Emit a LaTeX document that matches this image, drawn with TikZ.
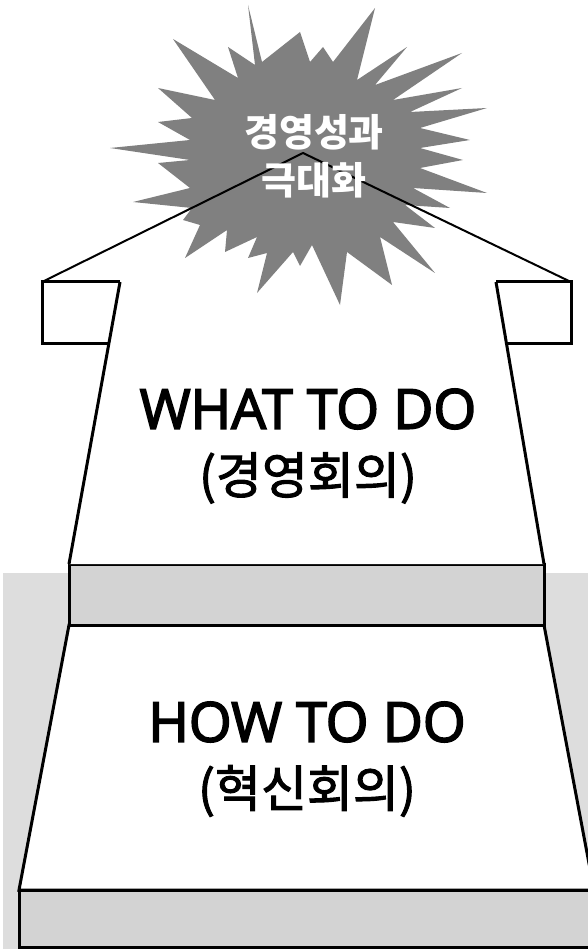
\documentclass[tikz,border=0pt]{standalone}
\usepackage{fontspec}
\setmainfont{Noto Sans CJK KR}
\newfontfamily\latfont[FakeBold=3]{Open Sans}
\newfontfamily\krfont[FakeBold=2]{Noto Sans CJK KR}
\definecolor{bgc}{HTML}{DDDDDD}
\definecolor{bandc}{HTML}{D3D3D3}
\definecolor{starc}{HTML}{808080}
\tikzset{
  outl/.style={draw=black, line width=3pt, line join=miter},
  roof/.style={draw=black, line width=2pt},
  bigtxt/.style={font=\latfont\fontsize{55}{60}\selectfont, inner sep=0pt, anchor=center},
  hantxt/.style={font=\krfont\fontsize{50}{54}\selectfont, inner sep=0pt, anchor=center},
  startxt/.style={font=\fontsize{38}{48}\selectfont\bfseries, text=white, align=center, inner sep=0pt}
}
\begin{document}
\begin{tikzpicture}[x=1pt,y=-1pt]
\useasboundingbox (0,0) rectangle (588,949);
\clip (0,0) rectangle (588,949);
% coordinates
\coordinate (apex) at (303,153);
\coordinate (lbt) at (42,282);
\coordinate (lbb) at (42,343);
\coordinate (ltt) at (120,282);
\coordinate (ltb) at (109,343);
\coordinate (rbt) at (571,282);
\coordinate (rbb) at (571,343);
\coordinate (rtt) at (496,282);
\coordinate (rtb) at (508,343);
\coordinate (ubl) at (69,564);
\coordinate (ubr) at (544,564);
\coordinate (lbl) at (69,625);
\coordinate (lbr) at (544,625);
\coordinate (bbl) at (19,890);
\coordinate (bbr) at (594,890);
% background
\fill[bgc] (3,573) rectangle (588,949);
% lower trapezoid and bands
\draw[outl, fill=white] (lbl) -- (lbr) -- (bbr) -- (bbl) -- cycle;
\draw[outl, fill=bandc] (bbl) rectangle (594,947);
\draw[outl, fill=bandc] (ubl) rectangle (lbr);
% arrow body fill
\fill[white] (lbt) -- (apex) -- (rbt) -- (rbb) -- (rtb) -- (ubr) -- (ubl) -- (ltb) -- (lbb) -- cycle;
% star
\fill[starc] (248,5) -- (262,62) -- (300,32) -- (310,62) -- (323,47) -- (333,62) -- (375,8) -- (357,80)
 -- (407,47) -- (375,85) -- (462,53) -- (393,100) -- (462,88) -- (410,112) -- (487,108) -- (420,128)
 -- (470,140) -- (420,148) -- (463,160) -- (420,168) -- (487,193) -- (413,188) -- (450,208) -- (405,205)
 -- (435,228) -- (393,222) -- (435,273) -- (380,237) -- (392,285) -- (347,252) -- (340,305) -- (312,245)
 -- (300,266) -- (293,252) -- (257,293) -- (267,253) -- (248,258) -- (257,237) -- (225,252) -- (227,230)
 -- (185,258) -- (200,225) -- (183,220) -- (192,208) -- (133,202) -- (190,188) -- (158,163) -- (190,160)
 -- (110,148) -- (190,140) -- (158,122) -- (192,118) -- (158,88) -- (215,100) -- (173,39) -- (238,78)
 -- (228,47) -- (255,65) -- cycle;
% roof
\draw[roof] (lbt) -- (apex) -- (rbt);
% side boxes and body
\draw[outl] (ltt) -- (lbt) -- (lbb) -- (ltb);
\draw[outl] (ltt) -- (ubl);
\draw[outl] (rtt) -- (rbt) -- (rbb) -- (rtb);
\draw[outl] (rtt) -- (ubr);
% texts
\node[startxt] (goal) at (314,156) {경영성과\\극대화};
\node[bigtxt] (what) at (308,409) {WHAT TO DO};
\node[hantxt] (whatk) at (308,478) {(경영회의)};
\node[bigtxt] (how) at (307,722) {HOW TO DO};
\node[hantxt] (howk) at (307,791) {(혁신회의)};
\end{tikzpicture}
\end{document}
